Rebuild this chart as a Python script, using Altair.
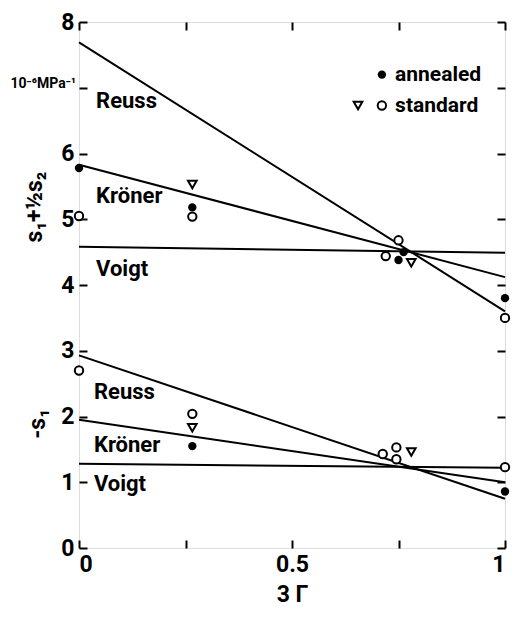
import altair as alt
import pandas as pd

FONT = "Roboto, DejaVu Sans, sans-serif"

# ---- data ----
line_names = ["Reuss", "Kröner", "Voigt", "Reuss", "Kröner", "Voigt"]
line_ids = ["uR", "uK", "uV", "lR", "lK", "lV"]
line_y_at_0 = [7.69, 5.83, 4.58, 2.93, 1.95, 1.28]
line_y_at_1 = [3.60, 4.12, 4.49, 0.75, 1.00, 1.22]

label_x = [0.04, 0.04, 0.04, 0.035, 0.035, 0.035]
label_y = [6.80, 5.35, 4.25, 2.38, 1.57, 0.97]

annealed_x = [0.0, 0.266, 0.75, 0.762, 1.0, 0.266, 1.0]
annealed_y = [5.78, 5.18, 4.38, 4.50, 3.80, 1.55, 0.86]

std_circle_x = [0.0, 0.266, 0.72, 0.75, 1.0, 0.0, 0.266, 0.713, 0.745, 0.745, 1.0]
std_circle_y = [5.05, 5.04, 4.44, 4.68, 3.50, 2.70, 2.04, 1.43, 1.53, 1.35, 1.23]

std_tri_x = [0.266, 0.78, 0.266, 0.78]
std_tri_y = [5.53, 4.34, 1.83, 1.46]

legend_labels = ["annealed", "standard"]
legend_label_x = [0.742, 0.742]
legend_y = [7.20, 6.73]
legend_filled_x = [0.711]
legend_open_x = [0.711]
legend_tri_x = [0.655]

x_ticks = [0, 0.25, 0.5, 0.75, 1]
y_ticks = [0, 1, 2, 3, 4, 5, 6, 7, 8]

# ---- tables ----
rows = []
for i, lid in enumerate(line_ids):
    rows.append({"id": lid, "x": 0.0, "y": line_y_at_0[i]})
    rows.append({"id": lid, "x": 1.0, "y": line_y_at_1[i]})
lines_df = pd.DataFrame(rows)
labels_df = pd.DataFrame({"t": line_names, "x": label_x, "y": label_y})
ann_df = pd.DataFrame({"x": annealed_x + legend_filled_x, "y": annealed_y + [legend_y[0]]})
circ_df = pd.DataFrame({"x": std_circle_x + legend_open_x, "y": std_circle_y + [legend_y[1]]})
tri_df = pd.DataFrame({"x": std_tri_x + legend_tri_x, "y": std_tri_y + [legend_y[1]]})
leg_df = pd.DataFrame({"t": legend_labels, "x": legend_label_x, "y": legend_y})

xs = alt.Scale(domain=[0, 1], nice=False, zero=False)
ys = alt.Scale(domain=[0, 8], nice=False, zero=False)

common_axis = dict(domain=False, grid=False, tickSize=8, tickWidth=2, tickColor="black",
                   labelFont=FONT, labelFontSize=23, labelColor="black", labelFontWeight="bold",
                   offset=-8)

x_axis = alt.Axis(values=x_ticks,
                  labelExpr="datum.value==0?'0':(datum.value==0.5?'0.5':(datum.value==1?'1':''))",
                  labelPadding=5, title="3 Γ", titleFont=FONT, titleFontSize=23,
                  titleFontWeight="bold", titleColor="black", titlePadding=7, **common_axis)
y_axis = alt.Axis(values=y_ticks, labelExpr="datum.value==7?'':format(datum.value,'d')",
                  labelPadding=5, title=None, **common_axis)

lines = alt.Chart(lines_df).mark_line(color="black", strokeWidth=2, clip=False).encode(
    x=alt.X("x:Q", scale=xs, axis=x_axis),
    y=alt.Y("y:Q", scale=ys, axis=y_axis),
    detail="id:N",
)

pt_size = 70
ann = alt.Chart(ann_df).mark_point(shape="circle", filled=True, color="black", size=pt_size,
                                   opacity=1, clip=False).encode(
    x=alt.X("x:Q", scale=xs), y=alt.Y("y:Q", scale=ys))
circ = alt.Chart(circ_df).mark_point(shape="circle", filled=True, fill="white", stroke="black",
                                     strokeWidth=2, size=pt_size, opacity=1, clip=False).encode(
    x=alt.X("x:Q", scale=xs), y=alt.Y("y:Q", scale=ys))
tri = alt.Chart(tri_df).mark_point(shape="triangle-down", filled=True, fill="white", stroke="black",
                                   strokeWidth=2, size=75, opacity=1, clip=False).encode(
    x=alt.X("x:Q", scale=xs), y=alt.Y("y:Q", scale=ys))

labels = alt.Chart(labels_df).mark_text(font=FONT, fontSize=22, fontWeight="bold", align="left",
                                        baseline="middle", color="black").encode(
    x=alt.X("x:Q", scale=xs), y=alt.Y("y:Q", scale=ys), text="t:N")
leg = alt.Chart(leg_df).mark_text(font=FONT, fontSize=21, fontWeight="bold", align="left",
                                  baseline="middle", color="black").encode(
    x=alt.X("x:Q", scale=xs), y=alt.Y("y:Q", scale=ys), text="t:N")

title_df = pd.DataFrame({"t": ["s₁+½s₂"]})
ytitle1 = alt.Chart(title_df).mark_text(font=FONT, fontSize=23, fontWeight="bold", angle=270,
                                        align="center", baseline="middle", color="black").encode(
    x=alt.value(-44), y=alt.value(185), text="t:N")
title2_df = pd.DataFrame({"t": ["-s₁"]})
ytitle2 = alt.Chart(title2_df).mark_text(font=FONT, fontSize=23, fontWeight="bold", angle=270,
                                         align="center", baseline="middle", color="black").encode(
    x=alt.value(-41), y=alt.value(402), text="t:N")
unit_df = pd.DataFrame({"t": ["10⁻⁶MPa⁻¹"]})
unit = alt.Chart(unit_df).mark_text(font=FONT, fontSize=14, fontWeight="bold", align="right",
                                    baseline="middle", color="black").encode(
    x=alt.value(-3), y=alt.value(62), text="t:N")

main = alt.layer(lines, ann, circ, tri, labels, leg, ytitle1, ytitle2, unit)

frame_axis = dict(domain=False, grid=False, tickSize=8, tickWidth=2, tickColor="black",
                  labels=False, title=None, offset=-8)
frame = alt.Chart(lines_df).mark_line(opacity=0).encode(
    x=alt.X("x:Q", scale=xs, axis=alt.Axis(orient="top", values=x_ticks, **frame_axis)),
    y=alt.Y("y:Q", scale=ys, axis=alt.Axis(orient="right", values=y_ticks, **frame_axis)),
    detail="id:N",
)

chart = alt.layer(main, frame).resolve_scale(x="independent", y="independent").properties(
    width=426, height=526, autosize="none",
    padding={"left": 71, "top": 14, "right": 6, "bottom": 62},
).configure_view(stroke="black", strokeWidth=2.5).configure(background="white")

chart.save("out.html", embed_options={"renderer": "svg", "actions": False})
